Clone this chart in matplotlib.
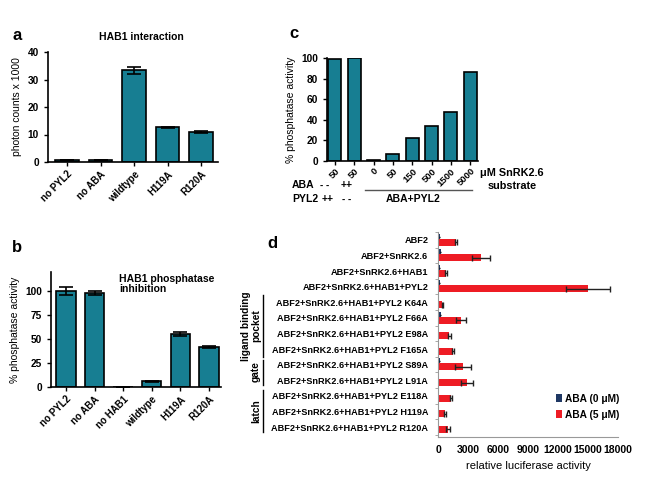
import numpy as np
import matplotlib
matplotlib.use('Agg')
import matplotlib.pyplot as plt

plt.rcParams['font.family'] = ['Liberation Sans', 'DejaVu Sans']
plt.rcParams['font.weight'] = 'bold'

W, H = 648, 491
TEAL = '#177e92'
RED = '#ee1c24'
NAVY = '#1f3864'

# panel a
a_labels = ['no PYL2', 'no ABA', 'wildtype', 'H119A', 'R120A']
a_vals = [0.8, 0.8, 33.4, 12.7, 10.9]
a_err = [0.1, 0.1, 1.3, 0.2, 0.2]

# panel b
b_labels = ['no PYL2', 'no ABA', 'no HAB1', 'wildtype', 'H119A', 'R120A']
b_vals = [100, 98, 0.5, 6, 55, 42]
b_err = [4, 2.5, 0, 0.6, 2, 1]

# panel c
c_labels = ['50', '50', '0', '50', '150', '500', '1500', '5000']
c_vals = [99, 100, 1, 7, 22, 34, 48, 86]

# panel d
d_labels = ['ABF2', 'ABF2+SnRK2.6', 'ABF2+SnRK2.6+HAB1', 'ABF2+SnRK2.6+HAB1+PYL2',
            'ABF2+SnRK2.6+HAB1+PYL2 K64A', 'ABF2+SnRK2.6+HAB1+PYL2 F66A',
            'ABF2+SnRK2.6+HAB1+PYL2 E98A', 'ABF2+SnRK2.6+HAB1+PYL2 F165A',
            'ABF2+SnRK2.6+HAB1+PYL2 S89A', 'ABF2+SnRK2.6+HAB1+PYL2 L91A',
            'ABF2+SnRK2.6+HAB1+PYL2 E118A', 'ABF2+SnRK2.6+HAB1+PYL2 H119A',
            'ABF2+SnRK2.6+HAB1+PYL2 R120A']
d_aba0 = [150, 250, 150, 150, 100, 250, 100, 100, 150, 100, 100, 100, 100]
d_aba0_err = [30, 30, 20, 20, 20, 30, 20, 20, 20, 20, 20, 20, 20]
d_aba5 = [1800, 4300, 800, 15000, 400, 2300, 1100, 1500, 2500, 2900, 1300, 700, 1000]
d_aba5_err = [100, 900, 100, 2200, 50, 500, 150, 100, 800, 600, 100, 80, 200]


def ax_px(l, t, r, b):
    return fig.add_axes([l / W, 1 - b / H, (r - l) / W, (b - t) / H])


def txt(x, y, s, **kw):
    fig.text(x / W, 1 - y / H, s, **kw)


def style_bar_axes(ax, xsize=7.0):
    for s in ['top', 'right']:
        ax.spines[s].set_visible(False)
    for s in ['left', 'bottom']:
        ax.spines[s].set_linewidth(1.2)
    ax.tick_params(axis='y', labelsize=7.3, width=1, length=3)
    ax.tick_params(axis='x', labelsize=xsize, width=1, length=3, pad=2)


fig = plt.figure(figsize=(W / 100, H / 100), dpi=100)

# ---- a
ax = ax_px(48, 52, 218, 162)
x = np.arange(len(a_vals))
ax.bar(x, a_vals, 0.7, color=TEAL, edgecolor='black', linewidth=1.2,
       yerr=a_err, error_kw=dict(ecolor='black', elinewidth=1.2, capsize=5, capthick=1.2))
ax.set_xlim(-0.57, 4.5)
ax.set_ylim(0, 40)
ax.set_yticks([0, 10, 20, 30, 40])
ax.set_xticks(x)
ax.set_xticklabels(a_labels, rotation=45, ha='right', rotation_mode='anchor')
ax.set_ylabel('photon counts x 1000', fontsize=7.5, fontweight='normal', labelpad=4)
style_bar_axes(ax)
txt(141, 37, 'HAB1 interaction', fontsize=7.5, ha='center', va='center')
txt(17, 35, 'a', fontsize=12, ha='center', va='center')

# ---- b
ax = ax_px(51, 272, 221, 387)
x = np.arange(len(b_vals))
ax.bar(x, b_vals, 0.68, color=TEAL, edgecolor='black', linewidth=1.2,
       yerr=b_err, error_kw=dict(ecolor='black', elinewidth=1.2, capsize=5, capthick=1.2))
ax.set_xlim(-0.52, 5.42)
ax.set_ylim(0, 120)
ax.set_yticks([0, 25, 50, 75, 100])
ax.set_xticks(x)
ax.set_xticklabels(b_labels, rotation=45, ha='right', rotation_mode='anchor')
ax.set_ylabel('% phosphatase activity', fontsize=7.5, fontweight='normal', labelpad=4)
style_bar_axes(ax)
txt(119, 284, 'HAB1 phosphatase\ninhibition', fontsize=7.5, ha='left', va='center',
    linespacing=1.1)
txt(17, 247, 'b', fontsize=12, ha='center', va='center')

# ---- c
ax = ax_px(327, 58, 478, 161)
x = np.arange(len(c_vals))
ax.bar(x, c_vals, 0.67, color=TEAL, edgecolor='black', linewidth=1.2)
ax.set_xlim(-0.41, 7.4)
ax.set_ylim(0, 100)
ax.set_yticks([0, 20, 40, 60, 80, 100])
ax.set_xticks(x)
ax.set_xticklabels(c_labels, rotation=45, ha='right', rotation_mode='anchor')
ax.set_ylabel('% phosphatase activity', fontsize=7.5, fontweight='normal', labelpad=4)
style_bar_axes(ax, xsize=6.8)
ax.tick_params(axis='x', pad=1)
txt(294, 33, 'c', fontsize=12, ha='center', va='center')
txt(512, 173, 'μM SnRK2.6', fontsize=7.8, ha='center', va='center')
txt(512, 186, 'substrate', fontsize=7.8, ha='center', va='center')
txt(292, 185, 'ABA', fontsize=7.5, ha='left', va='center')
txt(292, 199, 'PYL2', fontsize=7.5, ha='left', va='center')
txt(325, 185, '- -', fontsize=7, ha='center', va='center')
txt(347, 185, '++', fontsize=7.5, ha='center', va='center')
txt(328, 199, '++', fontsize=7.5, ha='center', va='center')
txt(347, 199, '- -', fontsize=7, ha='center', va='center')
fig.add_artist(plt.Line2D([365 / W, 472 / W], [1 - 190 / H, 1 - 190 / H],
                          color='#555555', linewidth=1))
txt(413, 199, 'ABA+PYL2', fontsize=7.5, ha='center', va='center')

# ---- d
ax = ax_px(438, 232, 618, 437)
y = np.arange(len(d_labels))
ax.barh(y - 0.2, d_aba0, 0.4, color=NAVY, xerr=d_aba0_err,
        error_kw=dict(ecolor='black', elinewidth=1, capsize=0), label='ABA (0 μM)')
ax.barh(y + 0.15, d_aba5, 0.45, color=RED, xerr=d_aba5_err,
        error_kw=dict(ecolor='#222222', elinewidth=1, capsize=2.5, capthick=1), label='ABA (5 μM)')
ax.set_ylim(12.64, -0.45)
ax.set_xlim(0, 18000)
ax.set_xticks(np.arange(0, 18001, 3000))
ax.set_yticks(y)
ax.set_yticklabels(d_labels)
ax.set_yticks(np.arange(-0.5, 12.6, 1), minor=True)
ax.tick_params(axis='y', which='major', length=0, labelsize=6.6, pad=7)
ax.tick_params(axis='y', which='minor', length=2.5, color='#999999')
ax.tick_params(axis='x', length=0, labelsize=7.5, pad=6)
for s in ['top', 'right']:
    ax.spines[s].set_visible(False)
for s in ['left', 'bottom']:
    ax.spines[s].set_color('#999999')
ax.set_xlabel('relative luciferase activity', fontsize=8, labelpad=4)
ax.legend(loc='lower right', bbox_to_anchor=(1.06, 0.04), frameon=False, fontsize=7.3,
          handlelength=0.6, handleheight=0.8, handletextpad=0.3, labelspacing=0.6)
txt(272, 243, 'd', fontsize=12, ha='center', va='center')

# group brackets
for top, bot in [(295, 357), (360, 385), (390, 432)]:
    fig.add_artist(plt.Line2D([263 / W, 263 / W], [1 - top / H, 1 - bot / H],
                              color='black', linewidth=1))
txt(251, 326, 'ligand binding\npocket', fontsize=7.3, rotation=90, ha='center', va='center',
    linespacing=1.0)
txt(256, 372, 'gate', fontsize=7.3, rotation=90, ha='center', va='center')
txt(256, 411, 'latch', fontsize=7.3, rotation=90, ha='center', va='center')

fig.savefig('out.png', dpi=100)
